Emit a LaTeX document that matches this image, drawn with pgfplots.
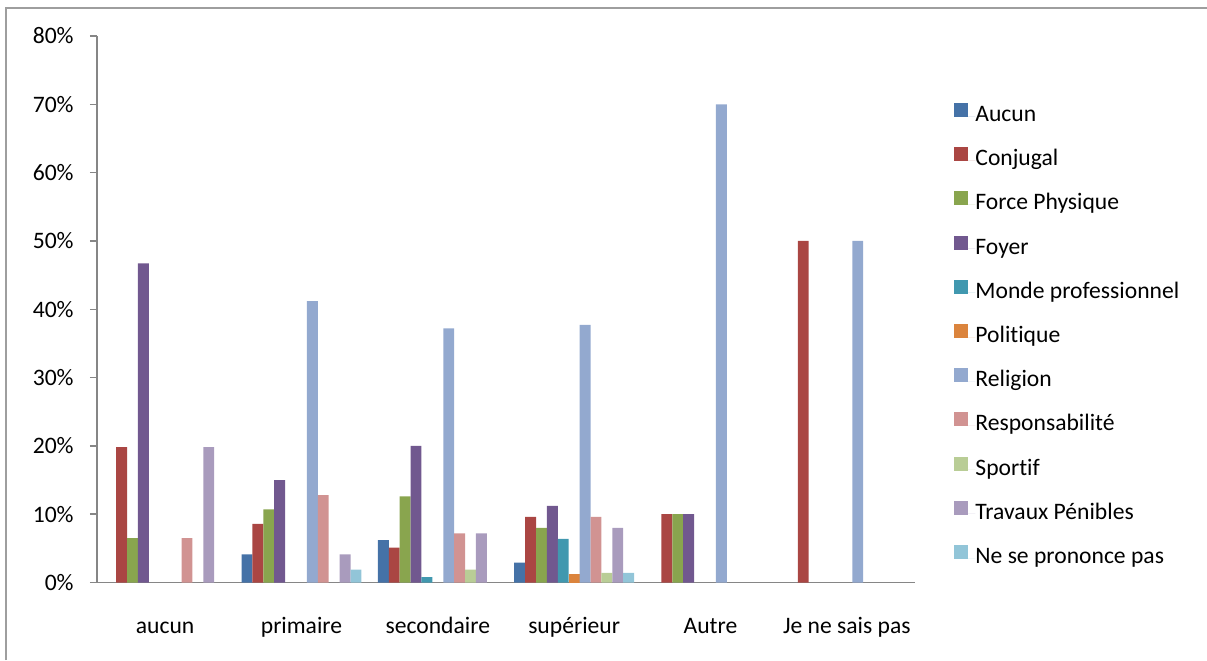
\documentclass[border=0pt]{standalone}
\usepackage{pgfplots}
\pgfplotsset{compat=1.18}
\usepackage{fontspec}
\setmainfont{Carlito}[Ligatures=NoCommon]
\definecolor{cA}{HTML}{4572A7}
\definecolor{cB}{HTML}{AA4643}
\definecolor{cC}{HTML}{89A54E}
\definecolor{cD}{HTML}{71588F}
\definecolor{cE}{HTML}{4198AF}
\definecolor{cF}{HTML}{DB843D}
\definecolor{cG}{HTML}{93A9CF}
\definecolor{cH}{HTML}{D19392}
\definecolor{cI}{HTML}{B9CD96}
\definecolor{cJ}{HTML}{A99BBD}
\definecolor{cK}{HTML}{92C5D8}
\definecolor{axgray}{HTML}{868686}
\begin{document}
\begin{tikzpicture}
\useasboundingbox (0,0) rectangle (603.5pt,330pt);
\draw[color=axgray!80, line width=0.8pt] (3pt,0) -- (3pt,326pt) -- (603.5pt,326pt);
\begin{axis}[
  at={(48.5pt,38.75pt)}, anchor=south west,
  scale only axis, width=409pt, height=273.25pt,
  ybar=0pt, bar width=5.45pt,
  xmin=-0.5, xmax=5.5, ymin=0, ymax=80,
  axis lines*=left,
  axis line style={-, draw=axgray, line width=0.7pt},
  tick align=outside,
  major tick length=3.5pt, minor tick length=4.5pt,
  xtick={0,1,2,3,4,5},
  xticklabels={aucun,primaire,secondaire,supérieur,Autre,Je ne sais pas},
  xtick style={draw=none},
  minor xtick={-0.5,0.5,1.5,2.5,3.5,4.5,5.5},
  minor tick style={draw=axgray, line width=0.7pt},
  ytick={0,10,20,30,40,50,60,70,80},
  yticklabels={0\%,10\%,20\%,30\%,40\%,50\%,60\%,70\%,80\%},
  ytick style={draw=axgray, line width=0.7pt},
  tick label style={font=\fontsize{11.8}{13}\selectfont, text=black},
  xticklabel style={anchor=base, inner sep=0pt, yshift=-21.75pt},
  yticklabel style={anchor=east, inner sep=0pt, xshift=-8pt},
  legend style={draw=none, fill=none, at={(1.0404,0.4505)}, anchor=west,
    font=\fontsize{11.8}{13}\selectfont, row sep=9.85pt,
    nodes={inner sep=0pt, text height=8.5pt, text depth=3pt},
    /tikz/every even column/.append style={column sep=0pt}},
  legend cell align=left,
  legend image code/.code={\fill[#1] (0pt,-0.5pt) rectangle (7pt,6.5pt); \path (0pt,0pt) -- (10.5pt,0pt);},
  every axis plot/.append style={draw=none},
  clip=false,
]
\addplot[fill=cA] coordinates {(1,4.1) (2,6.2) (3,2.9)};
\addplot[fill=cB] coordinates {(0,19.8) (1,8.6) (2,5.1) (3,9.6) (4,10) (5,50)};
\addplot[fill=cC] coordinates {(0,6.5) (1,10.7) (2,12.6) (3,8.0) (4,10)};
\addplot[fill=cD] coordinates {(0,46.7) (1,15.0) (2,20.0) (3,11.2) (4,10)};
\addplot[fill=cE] coordinates {(2,0.8) (3,6.4)};
\addplot[fill=cF] coordinates {(3,1.3)};
\addplot[fill=cG] coordinates {(1,41.2) (2,37.2) (3,37.7) (4,70) (5,50)};
\addplot[fill=cH] coordinates {(0,6.5) (1,12.8) (2,7.2) (3,9.6)};
\addplot[fill=cI] coordinates {(2,1.9) (3,1.4)};
\addplot[fill=cJ] coordinates {(0,19.8) (1,4.1) (2,7.2) (3,8.0)};
\addplot[fill=cK] coordinates {(1,1.9) (3,1.4)};
\legend{Aucun,Conjugal,Force Physique,Foyer,Monde professionnel,Politique,Religion,Responsabilité,Sportif,Travaux Pénibles,Ne se prononce pas}
\end{axis}
\end{tikzpicture}
\end{document}
